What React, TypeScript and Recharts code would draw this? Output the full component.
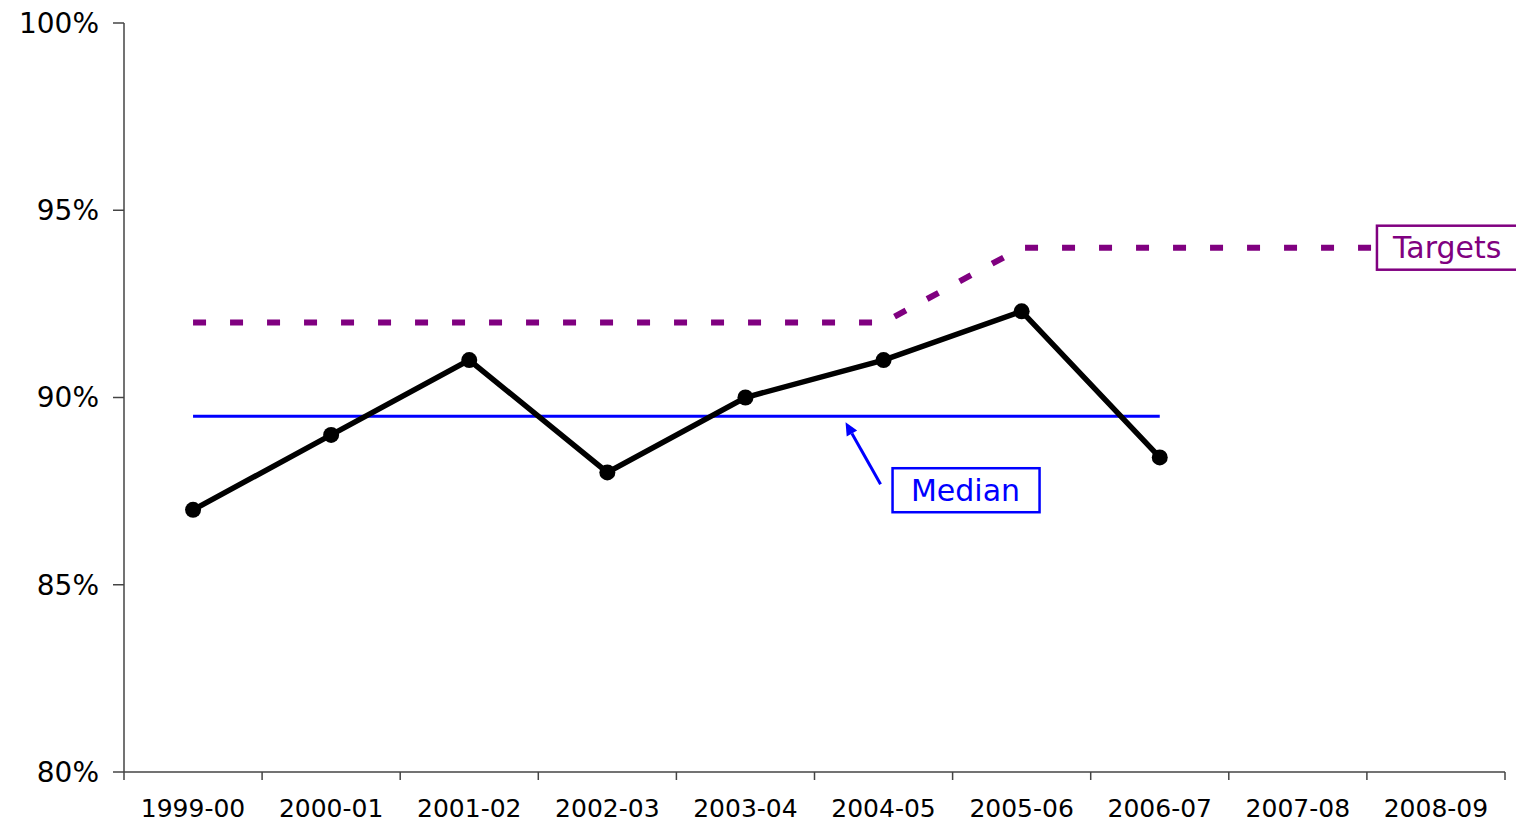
import { LineChart, Line, XAxis, YAxis, ReferenceDot } from 'recharts';

const W = 1516;
const H = 822;
const MARGIN = { top: 23, right: 11, bottom: 0, left: 0 };
const Y_AXIS_W = 124;
const STEP = (W - Y_AXIS_W - MARGIN.right) / 10;

const FONT = '"DejaVu Sans", "Liberation Sans", Arial, sans-serif';
const AXIS_COLOR = '#444';
const TARGET_COLOR = '#800080';
const MEDIAN_COLOR = '#0000ff';

const seasons = [
  '1999-00', '2000-01', '2001-02', '2002-03', '2003-04',
  '2004-05', '2005-06', '2006-07', '2007-08', '2008-09',
];
const performance = [87, 89, 91, 88, 90, 91, 92.3, 88.4, null, null];
const median = [89.5, 89.5, 89.5, 89.5, 89.5, 89.5, 89.5, 89.5, null, null];
const targets = [92, 92, 92, 92, 92, 92, 94, 94, 94, 94];
const yTicks = [80, 85, 90, 95, 100];

const data = seasons.map((season, i) => ({
  season,
  performance: performance[i],
  median: median[i],
  targets: targets[i],
}));

function SeasonTick(props: any) {
  const { x, y, payload, index } = props;
  const left = x - STEP / 2;
  return (
    <g>
      <line x1={left} y1={y} x2={left} y2={y + 8} stroke={AXIS_COLOR} strokeWidth={1.5} />
      {index === seasons.length - 1 && (
        <line x1={x + STEP / 2} y1={y} x2={x + STEP / 2} y2={y + 8} stroke={AXIS_COLOR} strokeWidth={1.5} />
      )}
      <text x={x} y={y + 45} textAnchor="middle" fontSize={25} fontFamily={FONT} fill="#000">
        {payload.value}
      </text>
    </g>
  );
}

function MedianLabel(props: any) {
  const { cx, cy } = props;
  const tipX = cx - 38;
  const tipY = cy + 6;
  const tailX = cx - 3;
  const tailY = cy + 68;
  const dx = tipX - tailX;
  const dy = tipY - tailY;
  const len = Math.sqrt(dx * dx + dy * dy);
  const ux = dx / len;
  const uy = dy / len;
  const baseX = tipX - ux * 13;
  const baseY = tipY - uy * 13;
  const head = `${tipX},${tipY} ${baseX - uy * 6},${baseY + ux * 6} ${baseX + uy * 6},${baseY - ux * 6}`;
  return (
    <g>
      <line x1={tailX} y1={tailY} x2={baseX} y2={baseY} stroke={MEDIAN_COLOR} strokeWidth={3} />
      <polygon points={head} fill={MEDIAN_COLOR} />
      <rect x={cx + 9} y={cy + 52} width={147} height={44} fill="#fff" stroke={MEDIAN_COLOR} strokeWidth={2.5} />
      <text x={cx + 82} y={cy + 85} textAnchor="middle" fontSize={30} fontFamily={FONT} fill={MEDIAN_COLOR}>
        Median
      </text>
    </g>
  );
}

function TargetsLabel(props: any) {
  const { cx, cy } = props;
  return (
    <g>
      <rect x={cx - 59} y={cy - 22} width={160} height={44} fill="#fff" stroke={TARGET_COLOR} strokeWidth={2.5} />
      <text x={cx - 43} y={cy + 10} textAnchor="start" fontSize={30} fontFamily={FONT} fill={TARGET_COLOR}>
        Targets
      </text>
    </g>
  );
}

export default function App() {
  return (
    <div style={{ position: 'absolute', left: 0, top: 0, width: W, height: H, background: '#fff' }}>
      <LineChart width={W} height={H} data={data} margin={MARGIN}>
        <XAxis
          dataKey="season"
          height={50}
          interval={0}
          padding={{ left: STEP / 2, right: STEP / 2 }}
          axisLine={{ stroke: AXIS_COLOR, strokeWidth: 1.5 }}
          tickLine={false}
          tickSize={0}
          tickMargin={0}
          tick={<SeasonTick />}
        />
        <YAxis
          domain={[80, 100]}
          ticks={yTicks}
          width={Y_AXIS_W}
          tickFormatter={(v: number) => `${v}%`}
          axisLine={{ stroke: AXIS_COLOR, strokeWidth: 1.5 }}
          tickLine={{ stroke: AXIS_COLOR, strokeWidth: 1.5 }}
          tickSize={11}
          tickMargin={14}
          tick={{ fill: '#000', fontSize: 28, fontFamily: FONT }}
          allowDataOverflow
        />
        <Line
          dataKey="median"
          stroke={MEDIAN_COLOR}
          strokeWidth={3}
          dot={false}
          isAnimationActive={false}
          type="linear"
        />
        <Line
          dataKey="targets"
          stroke={TARGET_COLOR}
          strokeWidth={6}
          strokeDasharray="13 24"
          dot={false}
          isAnimationActive={false}
          type="linear"
        />
        <Line
          dataKey="performance"
          stroke="#000"
          strokeWidth={5.5}
          dot={{ r: 8, fill: '#000', stroke: '#000', strokeWidth: 0 }}
          isAnimationActive={false}
          type="linear"
        />
        <ReferenceDot x="2004-05" y={89.5} r={0} shape={<MedianLabel />} ifOverflow="visible" />
        <ReferenceDot x="2008-09" y={94} r={0} shape={<TargetsLabel />} ifOverflow="visible" />
      </LineChart>
    </div>
  );
}
